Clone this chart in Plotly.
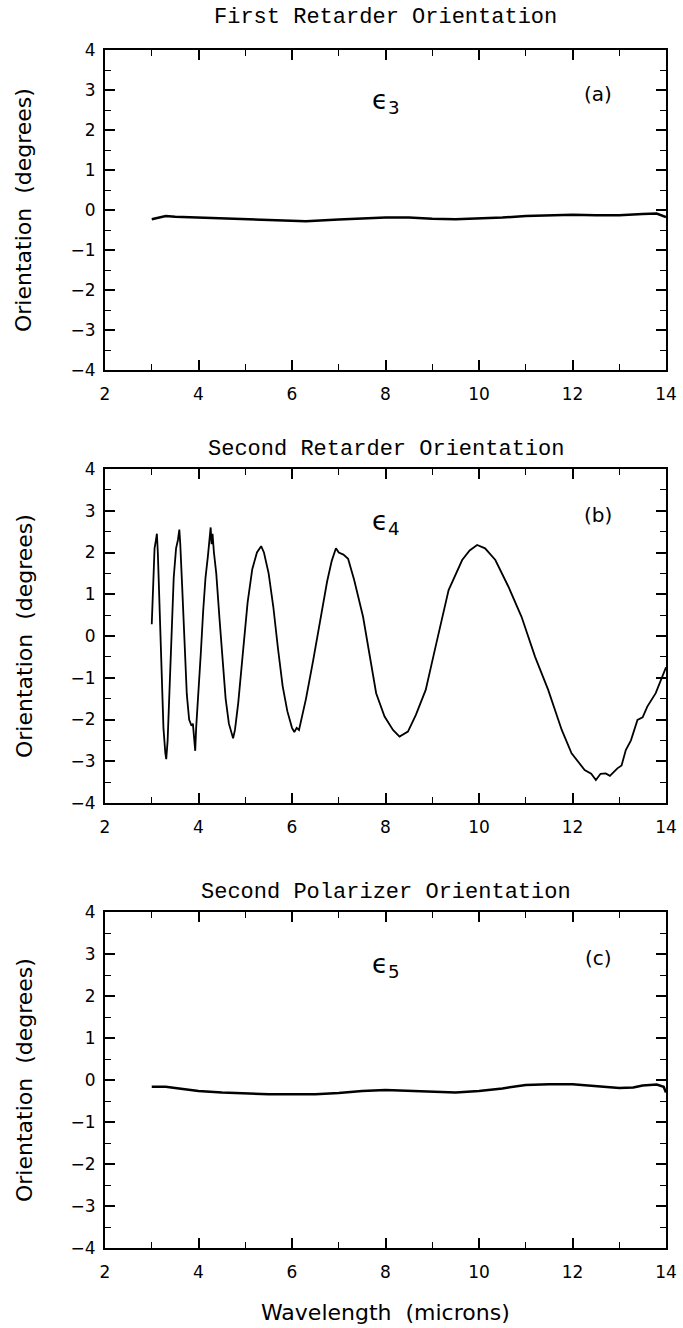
"""
Retarder / polarizer orientation errors vs wavelength (three stacked panels)
"""
import plotly.graph_objects as go

W, H = 683, 1328

# panel (a): first retarder orientation
wl_a = [3.0, 3.3, 3.5, 4.0, 4.5, 5.0, 5.5, 6.0, 6.3, 7.0, 7.5, 8.0, 8.5, 9.0, 9.5,
        10.0, 10.5, 11.0, 11.5, 12.0, 12.5, 13.0, 13.5, 13.8, 14.0]
eps3 = [-0.23, -0.15, -0.17, -0.19, -0.21, -0.23, -0.25, -0.27, -0.28, -0.24, -0.21, -0.19, -0.19,
        -0.22, -0.23, -0.21, -0.19, -0.15, -0.13, -0.12, -0.13, -0.13, -0.10, -0.09, -0.18]

# panel (b): second retarder orientation
wl_b = [3.00, 3.03, 3.06, 3.09, 3.11, 3.13, 3.17, 3.21, 3.25, 3.29, 3.31, 3.34, 3.38, 3.42,
        3.47, 3.52, 3.56, 3.59, 3.61, 3.65, 3.70, 3.75, 3.80, 3.85, 3.88, 3.91, 3.93, 3.95,
        4.00, 4.05, 4.10, 4.15, 4.20, 4.24, 4.26, 4.28, 4.30, 4.33, 4.38, 4.45, 4.52, 4.58,
        4.65, 4.70, 4.74, 4.78, 4.85, 4.95, 5.05, 5.15, 5.25, 5.34, 5.40, 5.50, 5.60, 5.70,
        5.80, 5.90, 6.00, 6.05, 6.10, 6.15, 6.20, 6.30, 6.45, 6.60, 6.75, 6.85, 6.94, 7.00,
        7.10, 7.20, 7.33, 7.52, 7.66, 7.80, 7.98, 8.16, 8.30, 8.40, 8.48, 8.65, 8.86, 9.07,
        9.35, 9.64, 9.80, 9.96, 10.13, 10.35, 10.63, 10.91, 11.20, 11.48, 11.77, 11.98,
        12.26, 12.40, 12.50, 12.60, 12.71, 12.80, 12.96, 13.05, 13.14, 13.25, 13.39, 13.50,
        13.60, 13.78, 13.94, 14.00]
eps4 = [0.28, 1.2, 2.1, 2.3, 2.45, 2.0, 0.5, -1.0, -2.2, -2.8, -2.95, -2.5, -1.2, 0.2,
        1.4, 2.1, 2.3, 2.55, 2.2, 1.2, -0.2, -1.4, -2.0, -2.15, -2.1, -2.5, -2.75, -2.2,
        -1.4, -0.4, 0.6, 1.4, 1.9, 2.3, 2.6, 2.2, 2.45, 2.0, 1.5, 0.4, -0.6, -1.5,
        -2.1, -2.3, -2.45, -2.25, -1.6, -0.4, 0.8, 1.6, 2.0, 2.15, 2.0, 1.5, 0.7, -0.3,
        -1.2, -1.8, -2.2, -2.3, -2.2, -2.25, -2.0, -1.5, -0.6, 0.4, 1.3, 1.8, 2.1, 2.0,
        1.95, 1.85, 1.34, 0.46, -0.5, -1.37, -1.93, -2.25, -2.41, -2.35, -2.29, -1.89, -1.29, -0.26,
        1.1, 1.82, 2.05, 2.18, 2.1, 1.82, 1.18, 0.46, -0.5, -1.29, -2.25, -2.81,
        -3.21, -3.3, -3.45, -3.3, -3.29, -3.35, -3.17, -3.1, -2.73, -2.5, -2.01, -1.95,
        -1.69, -1.37, -0.89, -0.75]

# panel (c): second polarizer orientation
wl_c = [3.0, 3.3, 3.5, 4.0, 4.5, 5.0, 5.5, 6.0, 6.5, 7.0, 7.5, 8.0, 8.5, 9.0, 9.5, 10.0,
        10.5, 11.0, 11.5, 12.0, 12.5, 13.0, 13.3, 13.5, 13.8, 13.95, 14.0]
eps5 = [-0.16, -0.16, -0.19, -0.26, -0.30, -0.32, -0.34, -0.34, -0.34, -0.31, -0.26, -0.24,
        -0.26, -0.29, -0.30, -0.26, -0.20, -0.12, -0.10, -0.10, -0.15, -0.19, -0.18, -0.13,
        -0.11, -0.16, -0.30]

titles = ["First Retarder Orientation", "Second Retarder Orientation", "Second Polarizer Orientation"]
tags = ["(a)", "(b)", "(c)"]
eps_labels = ["ϵ<sub>3</sub>", "ϵ<sub>4</sub>", "ϵ<sub>5</sub>"]
x_ticks = [2, 4, 6, 8, 10, 12, 14]
y_ticks = [-4, -3, -2, -1, 0, 1, 2, 3, 4]

# panel boxes in pixels (left, right, top, bottom)
boxes = [(105, 666, 50, 370), (105, 666, 469, 803), (105, 666, 912, 1248)]
title_y = [18, 449, 892]

TICK_FONT = dict(family="DejaVu Sans, sans-serif", size=17, color="black")
LABEL_FONT = dict(family="DejaVu Sans, sans-serif", size=22, color="black")
TITLE_FONT = dict(family="Courier New, Liberation Mono, monospace", size=22, color="black")

fig = go.Figure()
series = [(wl_a, eps3, 2.5), (wl_b, eps4, 1.8), (wl_c, eps5, 2.5)]
for i, (xs, ys, lw) in enumerate(series):
    sfx = "" if i == 0 else str(i + 1)
    fig.add_trace(go.Scatter(x=xs, y=ys, mode="lines", line=dict(color="black", width=lw),
                             xaxis="x" + sfx, yaxis="y" + sfx, showlegend=False))

annotations = []
for i, (l, r, t, b) in enumerate(boxes):
    sfx = "" if i == 0 else str(i + 1)
    common = dict(showgrid=False, zeroline=False, showline=True, linecolor="black", linewidth=2,
                  mirror="ticks", ticks="inside", tickcolor="black", tickwidth=1.5,
                  tickfont=TICK_FONT, automargin=False, ticklabeloverflow="allow")
    fig.update_layout({
        "xaxis" + sfx: dict(common, domain=[l / W, r / W], range=[2, 14], tickvals=x_ticks,
                            ticklen=10, anchor="y" + sfx, ticklabelstandoff=8,
                            minor=dict(dtick=1, ticks="inside", ticklen=6, tickcolor="black", tickwidth=1.2)),
        "yaxis" + sfx: dict(common, domain=[1 - b / H, 1 - t / H], range=[-4, 4], tickvals=y_ticks,
                            ticklen=10, anchor="x" + sfx, ticklabelstandoff=4,
                            minor=dict(dtick=0.5, ticks="inside", ticklen=6, tickcolor="black", tickwidth=1.2)),
    })
    annotations += [
        dict(text=titles[i], x=(l + r) / 2 / W, y=1 - title_y[i] / H, xref="paper", yref="paper",
             xanchor="center", yanchor="middle", showarrow=False, font=TITLE_FONT),
        dict(text="Orientation  (degrees)", x=24 / W, y=1 - (t + b) / 2 / H, xref="paper", yref="paper",
             xanchor="center", yanchor="middle", textangle=-90, showarrow=False, font=LABEL_FONT),
        dict(text=eps_labels[i], x=8.0, y=2.72, xref="x" + sfx, yref="y" + sfx, showarrow=False,
             xanchor="center", yanchor="middle",
             font=dict(family="DejaVu Sans, sans-serif", size=26, color="black")),
        dict(text=tags[i], x=12.55, y=2.9, xref="x" + sfx, yref="y" + sfx, showarrow=False,
             xanchor="center", yanchor="middle",
             font=dict(family="DejaVu Sans, sans-serif", size=20, color="black")),
    ]

annotations.append(dict(text="Wavelength  (microns)", x=385 / W, y=1 - 1312 / H, xref="paper", yref="paper",
                        xanchor="center", yanchor="middle", showarrow=False, font=LABEL_FONT))

fig.update_layout(
    width=W, height=H,
    margin=dict(l=0, r=0, t=0, b=0),
    paper_bgcolor="white", plot_bgcolor="white",
    annotations=annotations,
    showlegend=False,
)
# drop the browser's default 8px body margin so the figure sits at the page origin
fig.write_html("out.html", config={"displayModeBar": False},
               post_script="document.body.style.margin='0';")
